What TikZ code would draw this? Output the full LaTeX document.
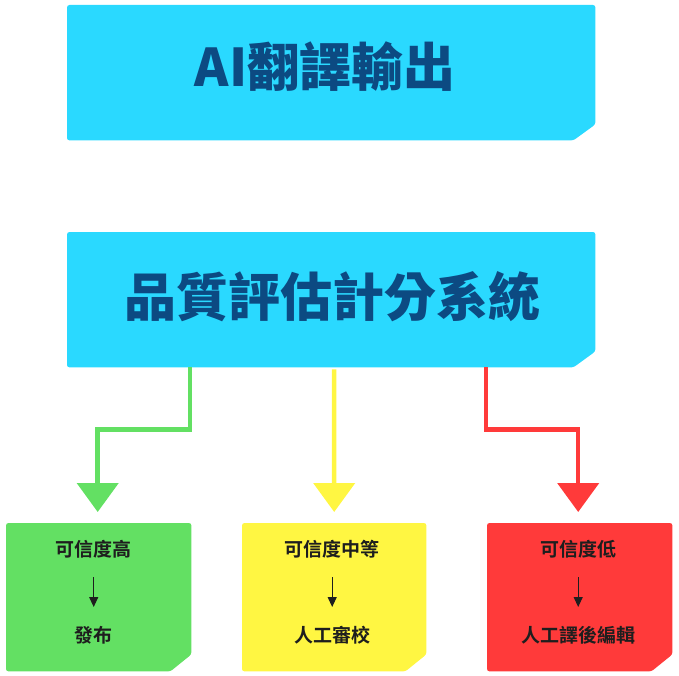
\documentclass[tikz,border=0pt]{standalone}
\usepackage{fontspec}
\setmainfont{Noto Sans CJK TC}[BoldFont={Noto Sans CJK TC Bold}]
\newfontfamily\heavyfont{Noto Sans CJK TC Black}
\usetikzlibrary{arrows.meta,calc}
\definecolor{boxcyan}{HTML}{2AD9FF}
\definecolor{boxgreen}{HTML}{63E063}
\definecolor{boxyellow}{HTML}{FFF642}
\definecolor{boxred}{HTML}{FF3A3A}
\definecolor{titleblue}{HTML}{0C4A82}
\definecolor{darktext}{HTML}{1E1E1E}
\newcommand\mycutbox[4]{% node, colour, cut width, cut height
  \fill[#2, rounded corners=2.5bp] (#1.north west) -- (#1.north east)
    -- ($(#1.south east)+(0,-#4)$) -- ($(#1.south east)+(-#3,0)$)
    -- (#1.south west) -- cycle;}
\begin{document}
\begin{tikzpicture}[x=1bp,y=-1bp,
  boxarea/.style={draw=none, inner sep=0, anchor=north west},
  bigtitle/.style={font=\heavyfont\fontsize{52bp}{60bp}\selectfont, text=titleblue,
    inner sep=0, text height=0.88em, text depth=0.12em},
  smalltext/.style={font=\bfseries\fontsize{19bp}{22bp}\selectfont, text=darktext,
    inner sep=0, text height=0.88em, text depth=0.12em},
  flow/.style={line width=4.5bp, -{Triangle[width=41bp,length=29bp]}, shorten >=11bp},
  inarrow/.style={line width=1.1bp, draw=darktext, -{Triangle[width=9bp,length=10bp]},
    shorten <=24bp, shorten >=32bp}]
\useasboundingbox (0,0) rectangle (679,676);
% box areas
\node[boxarea, minimum width=528bp, minimum height=135bp] (top) at (67,5) {};
\node[boxarea, minimum width=528bp, minimum height=135bp] (mid) at (67,232) {};
\node[boxarea, minimum width=185bp, minimum height=148bp] (g) at (6,523) {};
\node[boxarea, minimum width=184bp, minimum height=148bp] (y) at (242,523) {};
\node[boxarea, minimum width=185bp, minimum height=148bp] (r) at (487,523) {};
% box fills
\mycutbox{top}{boxcyan}{22}{16}
\mycutbox{mid}{boxcyan}{22}{16}
\mycutbox{g}{boxgreen}{21}{17}
\mycutbox{y}{boxyellow}{21}{17}
\mycutbox{r}{boxred}{21}{17}
% titles
\node[bigtitle] (toptext) at ($(top.center)+(-6,10)$) {AI翻譯輸出};
\node[bigtitle] (midtext) at ($(mid.center)+(1.5,13)$) {品質評估計分系統};
% green box contents
\node[smalltext] (g1) at ($(g.north)+(-5,30)$) {可信度高};
\node[smalltext] (g2) at ($(g.north)+(-5,116)$) {發布};
\draw[inarrow] (g1.center) -- (g2.center);
% yellow box contents
\node[smalltext] (y1) at ($(y.north)+(-2,30)$) {可信度中等};
\node[smalltext] (y2) at ($(y.north)+(-2,116)$) {人工審校};
\draw[inarrow] (y1.center) -- (y2.center);
% red box contents
\node[smalltext] (r1) at ($(r.north)+(-1.5,30)$) {可信度低};
\node[smalltext] (r2) at ($(r.north)+(-1.5,116)$) {人工譯後編輯};
\draw[inarrow] (r1.center) -- (r2.center);
% connectors
\draw[flow, draw=boxgreen]
  ($(mid.south west)+(123,0)$) |- ($(g.north)+(-1,-93.5)$) -- ($(g.north)+(-1,0)$);
\draw[flow, draw=boxyellow, shorten <=2bp]
  ($(mid.south)+(3,0)$) -- (y.north);
\draw[flow, draw=boxred]
  ($(mid.south east)+(-109.5,0)$) |- ($(r.north)+(-1.5,-93.5)$) -- ($(r.north)+(-1.5,0)$);
\end{tikzpicture}
\end{document}
